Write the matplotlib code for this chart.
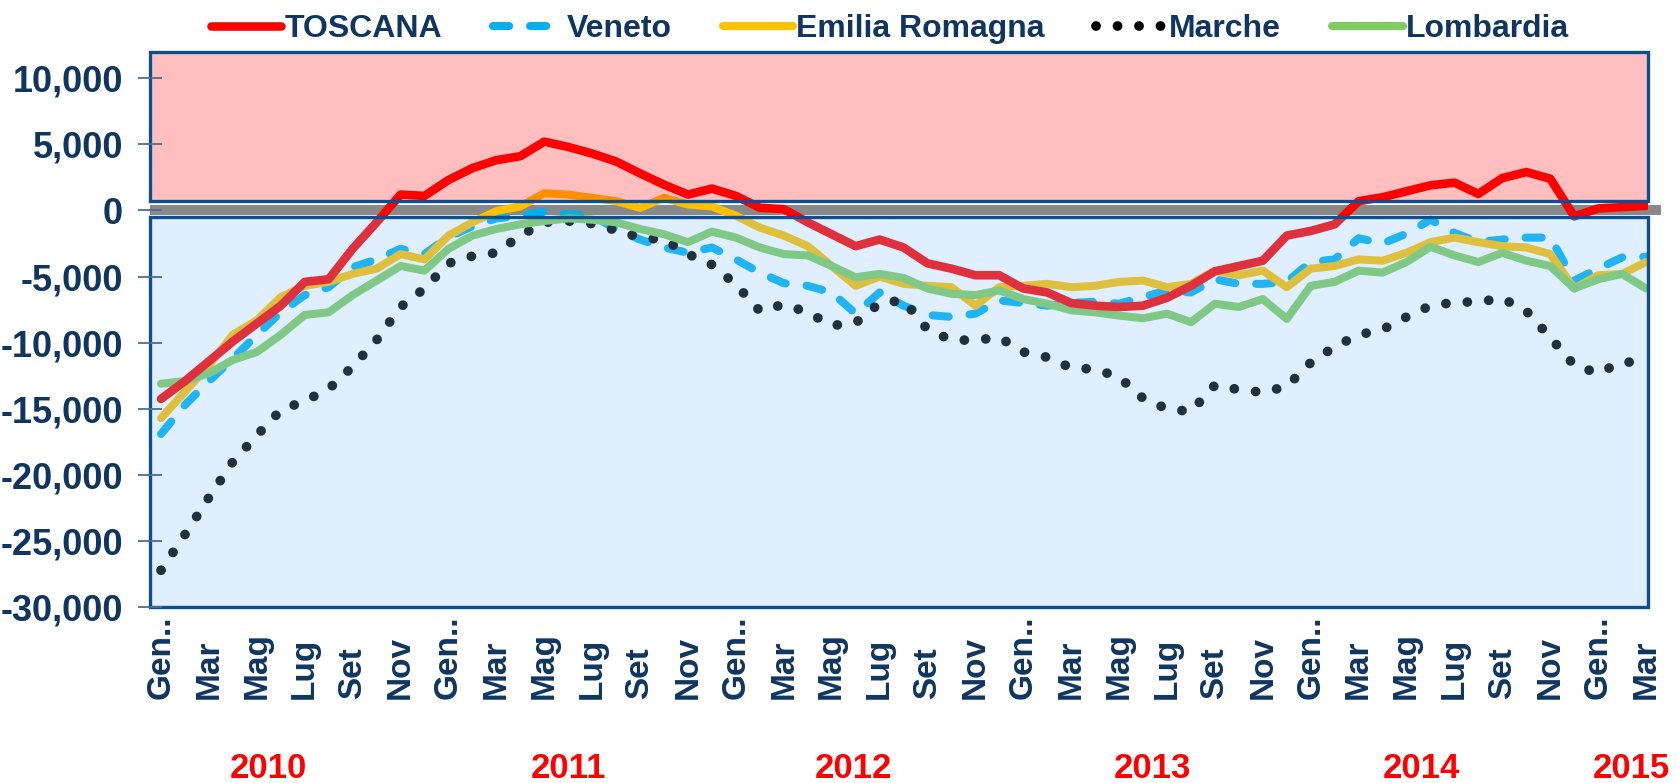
import matplotlib
matplotlib.use("Agg")
import matplotlib.pyplot as plt
from matplotlib.patches import Rectangle
from matplotlib.transforms import blended_transform_factory
from matplotlib.font_manager import FontProperties

# monthly values, Gen 2010 .. Mar 2015
month_names = ["Gen..", "Feb", "Mar", "Apr", "Mag", "Giu",
               "Lug", "Ago", "Set", "Ott", "Nov", "Dic"]
months = month_names * 5 + month_names[:3]
years = ["2010", "2011", "2012", "2013", "2014", "2015"]
year_label_pos = [4.5, 17.0, 28.9, 41.4, 52.6, 61.4]

toscana = [-14250, -12900, -11400, -9900, -8550, -7200, -5400, -5200, -2900, -900,
           1200, 1100, 2300, 3200, 3800, 4100, 5200, 4800, 4300, 3700,
           2800, 1950, 1200, 1650, 1100, 200, 100, -900, -1800, -2700,
           -2200, -2800, -4000, -4400, -4900, -4900, -5900, -6200, -7000, -7200,
           -7300, -7200, -6600, -5700, -4600, -4200, -3800, -1900, -1550, -1050,
           700, 1000, 1450, 1900, 2100, 1250, 2450, 2900, 2400, -450,
           150, 250, 350]
veneto = [-16900, -14700, -12900, -11200, -9400, -7700, -6400, -5800, -4300, -3700,
          -2900, -3300, -2000, -1200, -600, -400, -100, -300, -400, -1400,
          -2200, -2800, -3200, -2800, -3700, -4700, -5500, -5700, -6200, -7800,
          -6200, -7200, -7900, -8050, -7800, -6800, -7000, -7200, -7000, -6900,
          -7050, -6550, -6050, -6200, -5200, -5550, -5550, -5400, -3900, -3700,
          -2100, -2500, -1750, -700, -1700, -2400, -2200, -2050, -2050, -5300,
          -4400, -3550, -3500]
emilia = [-15700, -13700, -11700, -9400, -8300, -6550, -5700, -5400, -4800, -4400,
          -3300, -3700, -1900, -900, -50, 300, 1300, 1200, 950, 700,
          200, 950, 450, 300, -400, -1300, -1900, -2700, -4200, -5700,
          -5000, -5550, -5700, -5800, -7200, -5800, -5700, -5550, -5800, -5700,
          -5400, -5300, -5800, -5550, -4550, -4900, -4550, -5800, -4400, -4200,
          -3700, -3800, -3200, -2400, -2050, -2400, -2700, -2800, -3300, -5900,
          -4900, -4800, -3900]
marche = [-27200, -24500, -21700, -19000, -17000, -15100, -14400, -13500, -11800, -9800,
          -7300, -5900, -4000, -3450, -3200, -1900, -900, -800, -1000, -1500,
          -2050, -2200, -3300, -4100, -5600, -7600, -7100, -7700, -8700, -8500,
          -7000, -6800, -9000, -9800, -9800, -9600, -10700, -11100, -11900, -12000,
          -12600, -14200, -15000, -15200, -13200, -13550, -13750, -13300, -11500, -10300,
          -9400, -9000, -8050, -7200, -6950, -6900, -6650, -7600, -9600, -11700,
          -12300, -11450, -11500]
lombardia = [-13100, -12900, -12300, -11300, -10700, -9400, -7900, -7700, -6400, -5300,
             -4200, -4550, -2900, -1900, -1400, -1050, -800, -600, -700, -900,
             -1400, -1800, -2400, -1600, -2050, -2800, -3300, -3400, -4200, -5050,
             -4800, -5100, -5900, -6300, -6400, -6050, -6700, -7050, -7550, -7700,
             -7950, -8150, -7800, -8450, -7050, -7300, -6700, -8200, -5700, -5400,
             -4550, -4700, -3900, -2750, -3400, -3900, -3200, -3800, -4200, -5900,
             -5200, -4800, -5900]

NAVY = "#10365F"
BORDER = "#0E4F8F"
FONT = ["Liberation Sans", "DejaVu Sans"]

fig = plt.figure(figsize=(16.77, 7.83), dpi=100)
ax = fig.add_axes([150 / 1677, (783 - 607.3) / 783, 1497.5 / 1677, 555.6 / 783])

x = list(range(len(months)))
lines = []
lines += ax.plot(x, toscana, color="#FF0000", lw=6.2, solid_capstyle="round",
                 solid_joinstyle="round", label="TOSCANA", zorder=2.4)
lines += ax.plot(x, veneto, color="#00B0F0", lw=5.8, linestyle=(0, (2.0, 2.6)),
                 dash_capstyle="round", dash_joinstyle="round", label="Veneto", zorder=2)
lines += ax.plot(x, emilia, color="#FFC000", lw=5.8, solid_capstyle="round",
                 solid_joinstyle="round", label="Emilia Romagna", zorder=2.1)
lines += ax.plot(x, marche, color="#000000", lw=7, linestyle=(0, (0.01, 2.2)),
                 dash_capstyle="round", label="Marche", zorder=2)
lines += ax.plot(x, lombardia, color="#80CC5E", lw=5.8, solid_capstyle="round",
                 solid_joinstyle="round", label="Lombardia", zorder=2.2)

ax.set_xlim(-0.46, 62.06)
ax.set_ylim(-30000, 12000)

# shaded zones: positive (pink) and negative (blue), gray band at zero
tr = blended_transform_factory(ax.transAxes, ax.transData)
ax.add_patch(Rectangle((0, 700), 1, 11300, transform=tr, facecolor=(1, 0, 0, 0.25),
                       edgecolor=BORDER, lw=2.4, zorder=5, clip_on=False))
ax.add_patch(Rectangle((0, -30000), 1, 29525, transform=tr,
                       facecolor=(131 / 255, 192 / 255, 250 / 255, 0.25),
                       edgecolor=BORDER, lw=2.4, zorder=5, clip_on=False))
ax.add_patch(Rectangle((0, -350), 1.009, 725, transform=tr, facecolor="#898989",
                       edgecolor="none", zorder=1.5, clip_on=False))

for s in ax.spines.values():
    s.set_visible(False)

ax.tick_params(axis="y", direction="inout", length=17, width=1.3, color="#4C6E91",
               pad=11, labelcolor=NAVY, labelsize=26)
ax.tick_params(axis="x", length=0, pad=66, labelsize=24, labelcolor=NAVY)

ax.set_yticks(range(-30000, 10001, 5000))
ax.yaxis.set_major_formatter(plt.FuncFormatter(lambda v, _: f"{int(v):,}"))
ax.yaxis.set_zorder(6)

ax.set_xticks(x[::2])
ax.set_xticklabels(months[::2])
for lab in ax.get_xticklabels() + ax.get_yticklabels():
    lab.set_family(FONT)
    lab.set_fontweight("bold")
for lab in ax.get_xticklabels():
    lab.set_rotation(90)
    lab.set_va("bottom")
    lab.set_ha("center")
    lab.set_fontsize(24)

for yr, pos in zip(years, year_label_pos):
    ax.text(pos, -0.29, yr, transform=blended_transform_factory(ax.transData, ax.transAxes),
            ha="center", va="center", color="#FF0000",
            fontproperties=FontProperties(family=FONT, weight="bold", size=25))

fig.legend(handles=lines, loc="center", bbox_to_anchor=(890 / 1677, 1 - 29 / 783),
           ncol=5, frameon=False, handlelength=2.2, handletextpad=0.1, columnspacing=1.6,
           prop=FontProperties(family=FONT, weight="bold", size=23), labelcolor=NAVY)

fig.savefig("out.png", dpi=100, facecolor="white")
